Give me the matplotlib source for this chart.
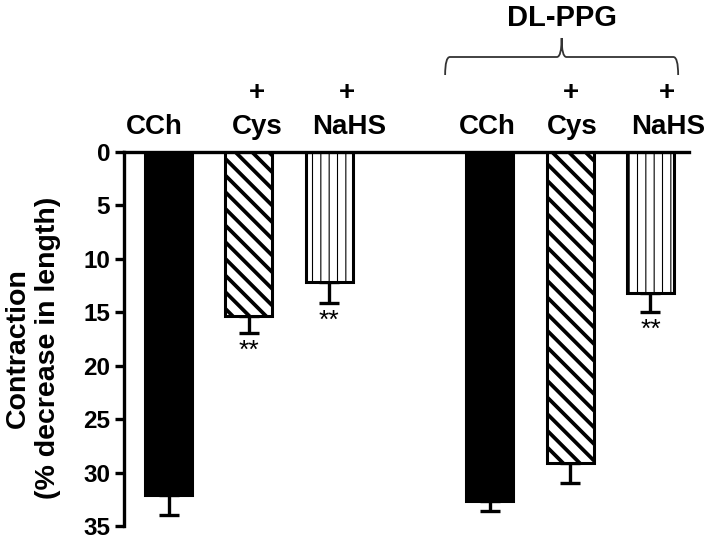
import matplotlib
matplotlib.use("Agg")
import matplotlib.pyplot as plt
import matplotlib.transforms as mtransforms
from matplotlib.path import Path
from matplotlib.patches import PathPatch

plt.rcParams['font.family'] = ['Liberation Sans', 'DejaVu Sans']
plt.rcParams['font.weight'] = 'bold'

# ---- data ----
categories = ["CCh", "Cys", "NaHS", "CCh", "Cys", "NaHS"]
prefixes = ["", "+", "+", "", "+", "+"]
positions = [0, 1, 2, 4, 5, 6]
means = [32.1, 15.35, 12.2, 32.65, 29.1, 13.2]
errors = [1.9, 1.55, 1.9, 0.95, 1.9, 1.75]
significant = [False, True, True, False, False, True]
hatches = ["", "\\\\", "||", "", "\\\\", "||"]
fills = ["black", "white", "white", "black", "white", "white"]
hatch_lw = [1.0, 2.7, 0.8, 1.0, 2.7, 0.8]
yticks = [0, 5, 10, 15, 20, 25, 30, 35]
group_label = "DL-PPG"
ylabel = "Contraction\n(% decrease in length)"

# label placement (layout, in bar-slot units relative to each bar)
label_shift = [-0.174, 0.10, 0.243, -0.037, 0.025, 0.224]
plus_shift = [0.0, 0.10, 0.224, 0.0, 0.015, 0.21]

fig = plt.figure(figsize=(7.09, 5.43), dpi=100)
ax = fig.add_axes([124/709, 1-526/543, (689-124)/709, (526-152)/543])

for p, m, e, h, f, hl in zip(positions, means, errors, hatches, fills, hatch_lw):
    with plt.rc_context({'hatch.linewidth': hl}):
        b = ax.bar(p, m, width=0.585, color=f, edgecolor='black',
                   linewidth=2.2, hatch=h, zorder=2)
    for patch in b:
        try:
            patch.set_hatch_linewidth(hl)
        except Exception:
            pass
    ax.errorbar(p, m, yerr=[[0], [e]], fmt='none', ecolor='black',
                elinewidth=2.4, capsize=7.5, capthick=2.4, zorder=1)

for p, m, e, s in zip(positions, means, errors, significant):
    if s:
        ax.annotate("**", xy=(p, m + e), xytext=(0, -13),
                    textcoords='offset points', ha='center', va='center',
                    fontsize=19, fontweight='normal')

ax.set_ylim(35, 0)
ax.set_xlim(-0.556, 6.48)
ax.set_yticks(yticks)
ax.set_xticks([])
ax.spines['bottom'].set_visible(False)
ax.spines['right'].set_visible(False)
ax.spines['left'].set_linewidth(2.4)
ax.spines['top'].set_linewidth(2.4)
ax.tick_params(axis='y', width=2.4, length=6.5, pad=3.5, labelsize=17.5)
for lab in ax.get_yticklabels():
    lab.set_fontweight('bold')

fig.text(33/709, 1 - 348/543, ylabel, rotation=90, ha='center', va='center',
         multialignment='center', fontsize=20.5, fontweight='bold',
         linespacing=1.2)

trans = mtransforms.blended_transform_factory(ax.transData, fig.transFigure)
for p, c, pre, ls, ps in zip(positions, categories, prefixes, label_shift, plus_shift):
    ax.text(p + ls, 1 - 127/543, c, transform=trans, ha='center', va='center',
            fontsize=20, fontweight='bold', clip_on=False)
    if pre:
        ax.text(p + ps, 1 - 93/543, pre, transform=trans, ha='center', va='center',
                fontsize=20, fontweight='bold', clip_on=False)

# brace over the DL-PPG group
xl, xr = positions[3] - 0.557, positions[5] + 0.345
xc = (xl + xr) / 2
yb, ym, yt = 1 - 75/543, 1 - 57/543, 1 - 38/543
dx = 0.06
verts = [(xl, yb), (xl, ym), (xl + dx, ym),
         (xc - dx, ym),
         (xc, ym), (xc, yt),
         (xc, ym), (xc + dx, ym),
         (xr - dx, ym),
         (xr, ym), (xr, yb)]
codes = [Path.MOVETO, Path.CURVE3, Path.CURVE3,
         Path.LINETO,
         Path.CURVE3, Path.CURVE3,
         Path.CURVE3, Path.CURVE3,
         Path.LINETO,
         Path.CURVE3, Path.CURVE3]
brace = PathPatch(Path(verts, codes), transform=trans, fill=False,
                  edgecolor='#333333', linewidth=1.3, clip_on=False)
fig.add_artist(brace)
ax.text(xc, 1 - 18/543, group_label, transform=trans, ha='center', va='center',
        fontsize=21, fontweight='bold', clip_on=False)

fig.savefig("out.png", dpi=100)
